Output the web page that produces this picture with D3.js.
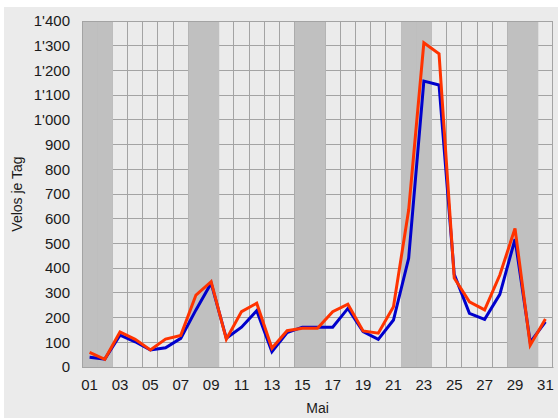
<!DOCTYPE html>
<html>
<head>
<meta charset="utf-8">
<script src="https://cdn.jsdelivr.net/npm/d3@7"></script>
<style>
  html, body { margin: 0; padding: 0; background: #ffffff; }
  svg { display: block; }
  text { font-family: "Liberation Sans", Arial, sans-serif; fill: #1a1a1a; }
</style>
</head>
<body>
<script>
// ---- data ----
const days = ["01","02","03","04","05","06","07","08","09","10","11","12","13","14","15","16",
              "17","18","19","20","21","22","23","24","25","26","27","28","29","30","31"];
const tickDays = ["01","03","05","07","09","11","13","15","17","19","21","23","25","27","29","31"];
const weekendDays = ["01","02","08","09","15","16","22","23","29","30"];
const seriesBlue = [39,32,129,102,69,78,116,231,339,116,161,228,62,139,161,161,161,237,143,112,190,440,1157,1141,375,217,193,294,517,100,183];
const seriesRed  = [59,31,142,112,69,113,128,291,345,112,224,258,76,147,157,157,224,254,146,137,244,635,1312,1267,360,264,231,372,561,88,194];
const yTicks = [0,100,200,300,400,500,600,700,800,900,1000,1100,1200,1300,1400];
const xTitle = "Mai";
const yTitle = "Velos je Tag";

// ---- layout ----
const W = 558, H = 418;
const L = 82, R = 553, T = 21, B = 367;

const svg = d3.select("body").append("svg").attr("width", W).attr("height", H);
svg.append("rect").attr("x", 4).attr("y", 7).attr("width", W - 4).attr("height", H - 7).attr("fill", "#ebebeb");

const x = d3.scaleBand().domain(days).range([L, R]).padding(0);
const y = d3.scaleLinear().domain([0, 1400]).range([B, T]);
const cx = d => x(d) + x.bandwidth() / 2;

const loc = d3.formatLocale({decimal: ".", thousands: "'", grouping: [3], currency: ["", ""]});
const fmt = loc.format(",");

// plot background
svg.append("rect").attr("x", L).attr("y", T).attr("width", R - L).attr("height", B - T).attr("fill", "#ebebeb");

// grid
const grid = svg.append("g").attr("stroke", "#a3a3a3").attr("stroke-width", 1).attr("shape-rendering", "crispEdges");
grid.selectAll("line.h").data(yTicks).join("line")
  .attr("x1", L).attr("x2", R).attr("y1", d => y(d)).attr("y2", d => y(d));
grid.selectAll("line.v").data(days.slice(1)).join("line")
  .attr("x1", d => x(d)).attr("x2", d => x(d)).attr("y1", T).attr("y2", B);

// weekend bands
svg.append("g").selectAll("rect").data(weekendDays).join("rect")
  .attr("x", d => x(d)).attr("width", x.bandwidth() + 0.5)
  .attr("y", T).attr("height", B - T).attr("fill", "#c0c0c0");

// border
svg.append("rect").attr("x", L + 0.5).attr("y", T + 0.5).attr("width", R - L - 1).attr("height", B - T)
  .attr("fill", "none").attr("stroke", "#a3a3a3").attr("stroke-width", 1);

// axes labels
const yAxis = d3.axisLeft(y).tickValues(yTicks).tickFormat(fmt).tickSize(0).tickPadding(12);
const gy = svg.append("g").attr("transform", `translate(${L},0)`).call(yAxis);
gy.select(".domain").remove();
gy.selectAll("text").style("font-size", "15px").attr("fill", "#1a1a1a").attr("font-family", "Liberation Sans, Arial, sans-serif");

const xAxis = d3.axisBottom(x).tickValues(tickDays).tickSize(0).tickPadding(12);
const gx = svg.append("g").attr("transform", `translate(0,${B})`).call(xAxis);
gx.select(".domain").attr("stroke", "#a3a3a3");
gx.selectAll("text").style("font-size", "15px").attr("fill", "#1a1a1a").attr("font-family", "Liberation Sans, Arial, sans-serif");

// lines
const line = d3.line().x((v, i) => cx(days[i])).y(v => y(v));
svg.append("path").datum(seriesBlue).attr("d", line)
  .attr("fill", "none").attr("stroke", "#0000cc").attr("stroke-width", 3);
svg.append("path").datum(seriesRed).attr("d", line)
  .attr("fill", "none").attr("stroke", "#ff3300").attr("stroke-width", 3);

// titles
svg.append("text").attr("x", (L + R) / 2).attr("y", 413).attr("text-anchor", "middle")
  .style("font-size", "14px").text(xTitle);
svg.append("text").attr("transform", `translate(22,${(T + B) / 2}) rotate(-90)`).attr("text-anchor", "middle")
  .style("font-size", "14px").text(yTitle);
</script>
</body>
</html>
